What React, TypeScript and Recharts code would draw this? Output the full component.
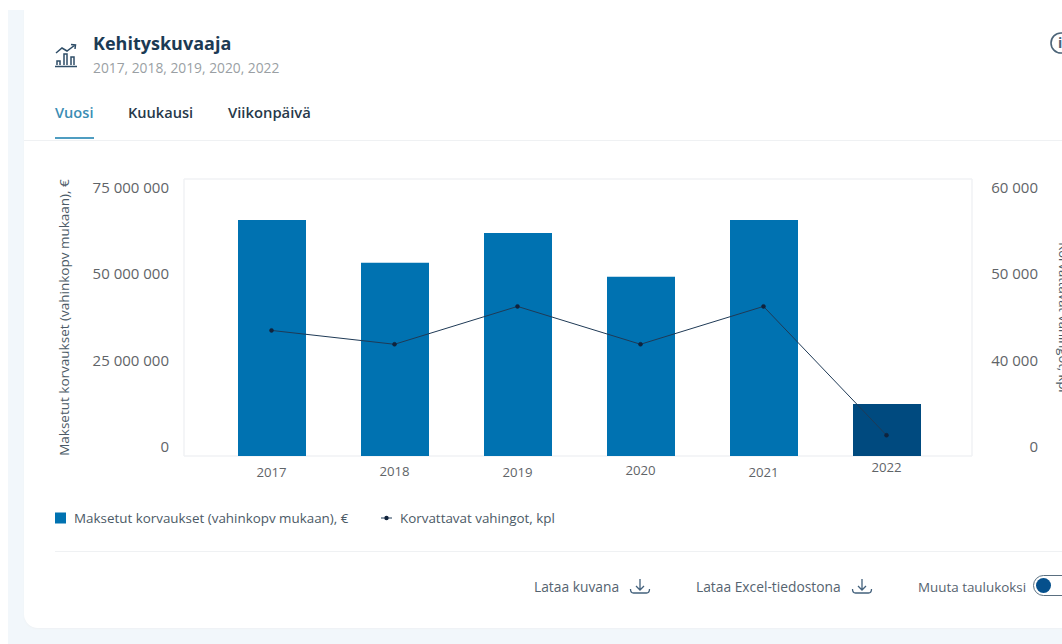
import React from 'react';
import { ComposedChart, Bar, Line, Cell, XAxis, YAxis, CartesianGrid, Legend } from 'recharts';

const years = ['2017', '2018', '2019', '2020', '2021', '2022'];
const paidClaims = [63900000, 52300000, 60400000, 48500000, 63900000, 14100000];
const claimCounts = [43600, 42100, 46200, 42100, 46200, 9000];
const leftTicks = [0, 25000000, 50000000, 75000000];
const rightTicks = [0, 40000, 50000, 60000];
const tabs = ['Vuosi', 'Kuukausi', 'Viikonpäivä'];

const rows = years.map((year, i) => ({ year, paid: paidClaims[i], count: claimCounts[i] }));

const FONT = '"Open Sans", sans-serif';
const BLUE = '#0072b1';
const DARK_BLUE = '#004a7f';
const NAVY = '#1f3a56';
const TICK_GREY = '#5f6468';

// The right axis is not evenly spaced: each labelled stop sits on one gridline.
function stopScale(stops: number[], dom: number[] = [0, 1], rng: number[] = [0, 1]): any {
  const s: any = (v: number) => {
    const last = stops.length - 1;
    let i = 0;
    while (i < last - 1 && v > stops[i + 1]) i += 1;
    const t = (i + (v - stops[i]) / (stops[i + 1] - stops[i])) / last;
    return rng[0] + t * (rng[1] - rng[0]);
  };
  s.domain = (d?: number[]) => (d ? stopScale(stops, d, rng) : dom);
  s.range = (r?: number[]) => (r ? stopScale(stops, dom, r) : rng);
  s.copy = () => stopScale(stops, dom, rng);
  s.ticks = () => stops;
  return s;
}

const fmt = (v: number) => String(v).replace(/\B(?=(\d{3})+(?!\d))/g, ' ');

// Tick labels are set a little tighter than the gridlines they belong to.
const labelY = (y: number) => 188 + (y - 179) * 0.935;

const LeftTick = ({ x, y, payload }: any) => (
  <text x={x + 6} y={labelY(y)} dy={5} textAnchor="end" fontFamily={FONT} fontSize={15} fill={TICK_GREY}>
    {fmt(payload.value)}
  </text>
);

const RightTick = ({ y, payload }: any) => (
  <text x={1038} y={labelY(y)} dy={5} textAnchor="end" fontFamily={FONT} fontSize={15} fill={TICK_GREY}>
    {fmt(payload.value)}
  </text>
);

const yearLift = [0, 1, 0, 1.5, 0, 5];
const YearTick = ({ x, y, payload, index }: any) => (
  <text x={x} y={y - yearLift[index]} dy={4.5} textAnchor="middle" fontFamily={FONT} fontSize={13.2} fill={TICK_GREY}>
    {payload.value}
  </text>
);

const LegendRow = ({ payload }: any) => (
  <div style={{ position: 'relative', height: 20, fontFamily: FONT, fontSize: 13.4, color: '#4b5a66' }}>
    {(payload || []).map((item: any) => {
      const isBar = item.dataKey === 'paid';
      return (
        <div key={item.value} style={{ position: 'absolute', left: isBar ? 0 : 326, top: 0, whiteSpace: 'nowrap', lineHeight: '20px' }}>
          <svg width={11} height={20} style={{ verticalAlign: 'top', marginRight: 8 }}>
            {isBar ? (
              <rect x={0} y={4.5} width={11} height={11} fill={BLUE} />
            ) : (
              <g>
                <line x1={0} x2={11} y1={10} y2={10} stroke={NAVY} strokeWidth={1} />
                <circle cx={5.5} cy={10} r={2.2} fill="#10233c" />
              </g>
            )}
          </svg>
          {item.value}
        </div>
      );
    })}
  </div>
);

const DownloadIcon = ({ left }: { left: number }) => (
  <svg width={22} height={20} style={{ position: 'absolute', left, top: 576 }} fill="none" stroke="#43617c" strokeWidth={1.3}>
    <path d="M11 3v11M7 10l4 4 4-4M1.5 13c0 3 1 4 3 4h13c2 0 3-1 3-4" />
  </svg>
);

const ChartIcon = () => (
  <svg width={26} height={28} style={{ position: 'absolute', left: 54, top: 41 }} fill="none" stroke="#2f4e68" strokeWidth={1.5}>
    <path d="M2 12l6-5 5 3 8-6M17 3.5l4.5.5-.5 4" />
    <path d="M3 24v-4h3v4M10 24v-11h3v11M17 24v-8h3v8M1 25.5h22" />
  </svg>
);

const Caption = ({ x, y, size, color, weight, children }: any) => (
  <div
    style={{
      position: 'absolute', left: x, top: y - 12, height: 24, lineHeight: '24px', whiteSpace: 'nowrap',
      fontFamily: FONT, fontSize: size, color, fontWeight: weight || 400,
    }}
  >
    {children}
  </div>
);

export default function App() {
  return (
    <div style={{ position: 'fixed', left: 0, top: 0, width: 1062, height: 644, overflow: 'hidden', background: '#fff' }}>
      <div style={{ position: 'absolute', left: 8, top: 10, right: 0, bottom: 0, background: '#f2f7fb' }} />
      <div style={{ position: 'absolute', left: 24, top: 10, width: 1060, height: 618, background: '#fff', borderBottomLeftRadius: 14, boxShadow: '0 1px 2px #eef1f4' }} />

      <ChartIcon />
      <Caption x={93} y={43} size={18} color="#1b3a54" weight={700}>Kehityskuvaaja</Caption>
      <Caption x={93} y={68} size={13.8} color="#9a9fa4">2017, 2018, 2019, 2020, 2022</Caption>
      <Caption x={55} y={112} size={14.6} color="#3b8db4" weight={600}>{tabs[0]}</Caption>
      <Caption x={128} y={112} size={14.6} color="#27394a" weight={600}>{tabs[1]}</Caption>
      <Caption x={228} y={112} size={14.8} color="#27394a" weight={600}>{tabs[2]}</Caption>
      <div style={{ position: 'absolute', left: 55, top: 137, width: 39, height: 2, background: '#4f9dc1' }} />
      <div style={{ position: 'absolute', left: 24, top: 140, right: 0, height: 1, background: '#eff1f3' }} />
      <svg width={20} height={26} style={{ position: 'absolute', left: 1049, top: 30 }} fill="none" stroke="#4c6478" strokeWidth={1.6}>
        <circle cx={12} cy={13} r={10} />
      </svg>
      <div style={{ position: 'absolute', left: 1058, top: 33, fontFamily: FONT, fontSize: 14, fontWeight: 700, color: '#4c6478' }}>i</div>

      <div style={{ position: 'absolute', left: 0, top: 0 }}>
        <ComposedChart
          width={1062}
          height={644}
          data={rows}
          barCategoryGap={0}
          margin={{ top: 179, right: 0, bottom: 158, left: 0 }}
        >
          <CartesianGrid
            stroke="#f0f2f4"
            strokeWidth={1.5}
            verticalCoordinatesGenerator={({ offset }: any) => [offset.left, offset.left + offset.width]}
          />
          <XAxis
            dataKey="year"
            xAxisId="years"
            axisLine={false}
            tickLine={false}
            height={30}
            padding={{ left: 26, right: 24 }}
            tick={YearTick}
            tickMargin={10}
            interval={0}
          />
          <YAxis
            yAxisId="paid"
            width={184}
            domain={[0, 75000000]}
            ticks={leftTicks}
            axisLine={false}
            tickLine={false}
            tick={LeftTick}
            tickMargin={15}
            label={{
              value: 'Maksetut korvaukset (vahinkopv mukaan), €',
              angle: -90,
              position: 'insideLeft',
              offset: 64,
              style: { textAnchor: 'middle', fontFamily: FONT, fontSize: 13.5, fill: '#4b5a66' },
            }}
          />
          <YAxis
            yAxisId="count"
            orientation="right"
            width={90}
            domain={[0, 60000]}
            ticks={rightTicks}
            scale={stopScale(rightTicks)}
            axisLine={false}
            tickLine={false}
            tick={RightTick}
            label={{
              value: 'Korvattavat vahingot, kpl',
              angle: 90,
              position: 'insideRight',
              offset: -2,
              style: { textAnchor: 'middle', fontFamily: FONT, fontSize: 13, fill: '#4b5a66' },
            }}
          />
          <Legend
            verticalAlign="middle"
            layout="horizontal"
            itemSorter={null}
            wrapperStyle={{ position: 'absolute', left: 55, top: 508, width: 600, height: 20 }}
            content={LegendRow}
          />
          <Bar
            xAxisId="years"
            yAxisId="paid"
            dataKey="paid"
            name="Maksetut korvaukset (vahinkopv mukaan), €"
            fill={BLUE}
            barSize={68}
            isAnimationActive={false}
          >
            {years.map((year) => (
              <Cell key={year} fill={year === '2022' ? DARK_BLUE : BLUE} />
            ))}
          </Bar>
          <Line
            xAxisId="years"
            yAxisId="count"
            dataKey="count"
            name="Korvattavat vahingot, kpl"
            stroke={NAVY}
            strokeWidth={1}
            dot={{ r: 2, fill: '#10233c', stroke: '#10233c', strokeWidth: 0.5 }}
            isAnimationActive={false}
          />
        </ComposedChart>
      </div>

      <div style={{ position: 'absolute', left: 55, top: 551, right: 0, height: 1, background: '#eff1f3' }} />
      <Caption x={534} y={587} size={13.8} color="#55636f">Lataa kuvana</Caption>
      <DownloadIcon left={629} />
      <Caption x={696} y={587} size={13.8} color="#55636f">Lataa Excel-tiedostona</Caption>
      <DownloadIcon left={851} />
      <Caption x={918} y={587} size={13.4} color="#55636f">Muuta taulukoksi</Caption>
      <div style={{ position: 'absolute', left: 1033, top: 575, width: 60, height: 21, boxSizing: 'border-box', border: '1.5px solid #5a6f80', borderRadius: 11, background: '#fff' }} />
      <div style={{ position: 'absolute', left: 1036, top: 578, width: 15, height: 15, borderRadius: 8, background: '#05508c' }} />
    </div>
  );
}
